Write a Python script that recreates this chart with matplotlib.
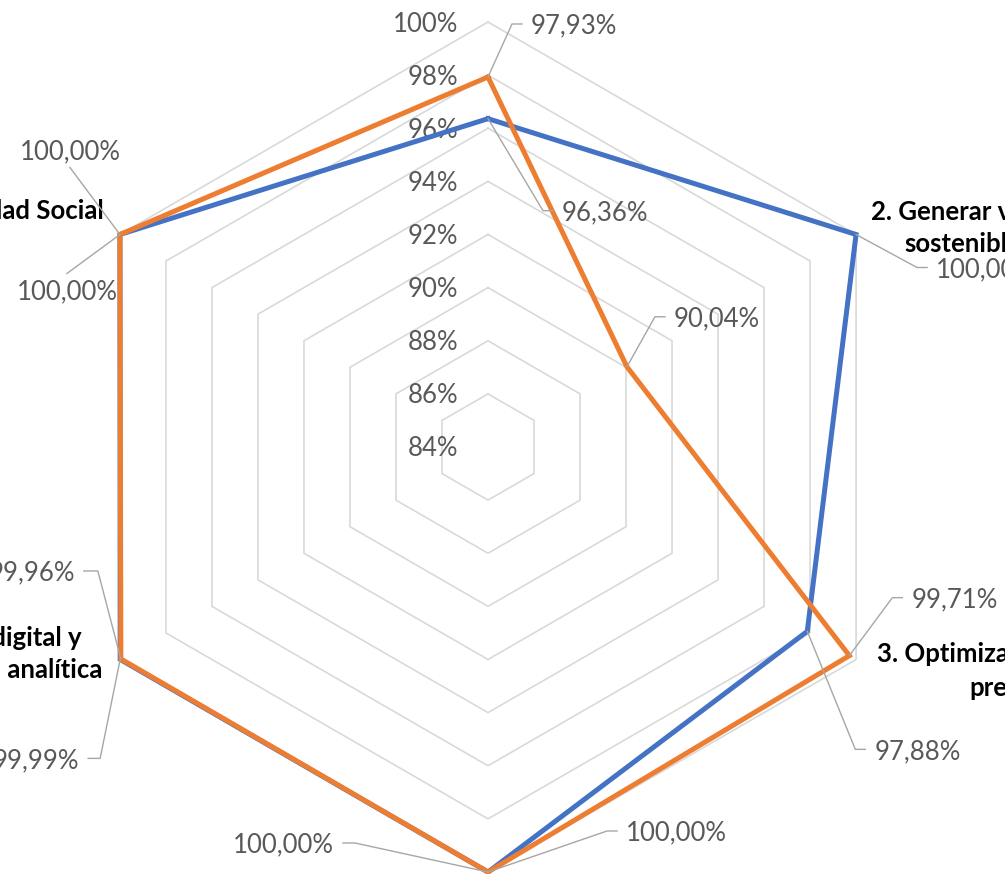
import numpy as np
import matplotlib
matplotlib.use("Agg")
import matplotlib.pyplot as plt

plt.rcParams['font.family'] = ['Lato', 'DejaVu Sans']

# data
categories = [
    "1. Fortalecer la gestión institucional",
    "2. Generar valor\nsostenible",
    "3. Optimización de los recursos\npresupuestales",
    "4. Fortalecer el talento humano",
    "5. Transformación digital y\nuso de la información analítica",
    "6. Responsabilidad Social",
]
serie_azul = [96.36, 100.00, 97.88, 100.00, 99.99, 100.00]
serie_naranja = [97.93, 90.04, 99.71, 100.00, 99.96, 100.00]
ticks = [84, 86, 88, 90, 92, 94, 96, 98, 100]

# layout (pixels of the output image)
W, H = 1005, 874
CX, CY, R = 488, 447, 425
RMIN, RMAX = 84, 100
ANG = np.arange(6) * np.pi / 3  # clockwise from top

GRID = '#d9d9d9'
TXT = '#595959'
LEAD = '#a6a6a6'
BLUE = '#4472C4'
ORANGE = '#ED7D31'
FS = 18.5


def to_xy(values):
    v = np.asarray(values, dtype=float)
    r = R * (v - RMIN) / (RMAX - RMIN)
    return CX + r * np.sin(ANG), CY - r * np.cos(ANG)


fig = plt.figure(figsize=(W / 100, H / 100), dpi=100)
ax = fig.add_axes([0, 0, 1, 1])
ax.set_xlim(0, W)
ax.set_ylim(H, 0)
ax.axis('off')

# hexagon grid
for t in ticks[1:]:
    gx, gy = to_xy([t] * 6)
    ax.plot(np.append(gx, gx[0]), np.append(gy, gy[0]), color=GRID, lw=1.2, zorder=1)

# radial tick labels
for t in ticks:
    gx, gy = to_xy([t] * 6)
    ax.text(CX - 30, gy[0] + 2, f"{t}%", ha='right', va='center', fontsize=FS, color=TXT)

# series
for vals, col in [(serie_azul, BLUE), (serie_naranja, ORANGE)]:
    px, py = to_xy(vals)
    ax.plot(np.append(px, px[0]), np.append(py, py[0]), color=col, lw=3.6,
            solid_joinstyle='miter', zorder=3)

# data label placement: elbow offset from point, stub length / text mode
lab_azul = [(55, 92, 10), (61, 33, 10), (48, 118, 10), (-133, -29, -12), (-20, 99, -12), (-53, 39, 'below')]
lab_naranja = [(24, -53, 10), (28, -50, 10), (43, -58, 10), (119, -41, 10), (-23, -88, -14), (-50, -67, 'above')]


def fmt(v):
    return f"{v:.2f}%".replace('.', ',')


for vals, labs in [(serie_azul, lab_azul), (serie_naranja, lab_naranja)]:
    px, py = to_xy(vals)
    for i, (ex, ey, stub) in enumerate(labs):
        x0, y0 = px[i], py[i]
        x1, y1 = x0 + ex, y0 + ey
        if stub == 'below':
            ax.plot([x0, x1], [y0, y1], color=LEAD, lw=1.0, zorder=4)
            ax.text(x1, y1 + 6, fmt(vals[i]), ha='center', va='top', fontsize=FS, color=TXT)
        elif stub == 'above':
            ax.plot([x0, x1], [y0, y1], color=LEAD, lw=1.0, zorder=4)
            ax.text(x1, y1 - 3, fmt(vals[i]), ha='center', va='bottom', fontsize=FS, color=TXT)
        else:
            x2 = x1 + stub
            ax.plot([x0, x1, x2], [y0, y1, y1], color=LEAD, lw=1.0, zorder=4)
            if stub > 0:
                ax.text(x2 + 9, y1 + 2, fmt(vals[i]), ha='left', va='center', fontsize=FS, color=TXT)
            else:
                ax.text(x2 - 9, y1 + 2, fmt(vals[i]), ha='right', va='center', fontsize=FS, color=TXT)

# category labels
cat_pos = [
    (CX, -40, 'center', 'bottom'),
    (963, 228, 'center', 'center'),
    (1056, 671, 'center', 'center'),
    (CX, 915, 'center', 'top'),
    (-71, 654, 'center', 'center'),
    (104, 211, 'right', 'center'),
]
for name, (x, y, ha, va) in zip(categories, cat_pos):
    ax.text(x, y, name, ha=ha, va=va, multialignment='center', fontsize=FS,
            fontweight='bold', color='black', linespacing=1.45)

fig.savefig('out.png', dpi=100)
